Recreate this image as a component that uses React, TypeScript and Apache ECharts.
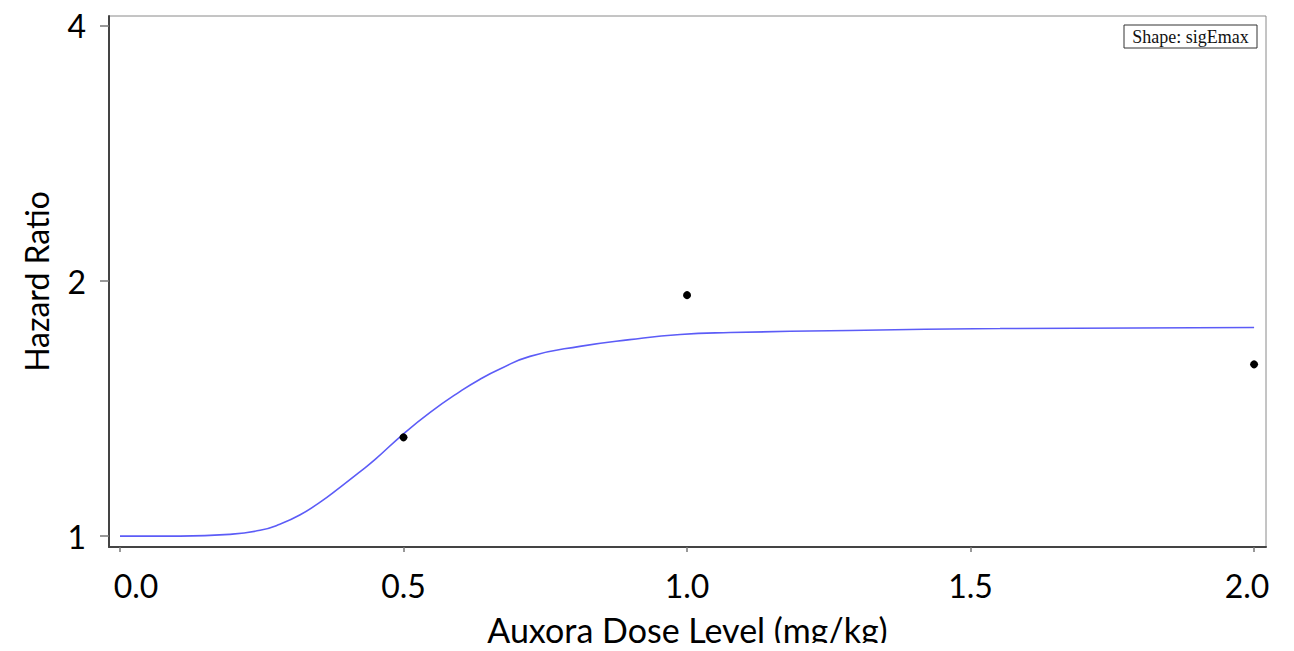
import React, { useEffect, useRef } from "react";
import * as echarts from "echarts";

const curveDose = [0, 0.106, 0.194, 0.247, 0.282, 0.317, 0.353, 0.388, 0.423, 0.45, 0.499, 0.547, 0.6, 0.635, 0.67, 0.723, 0.811, 0.899, 0.988, 1.076, 1.287, 1.552, 2.0];
const curveHR = [1.0, 1.0, 1.005, 1.016, 1.033, 1.059, 1.097, 1.142, 1.191, 1.232, 1.319, 1.4, 1.482, 1.532, 1.575, 1.63, 1.675, 1.706, 1.73, 1.739, 1.749, 1.758, 1.763];

const obsDose = [0.5, 1.0, 2.0];
const obsHR = [1.308, 1.925, 1.595];

const xTicks = [0, 0.5, 1.0, 1.5, 2.0];
const yTicks = [1, 2, 4];

const FONT = "Lato";

export default function App() {
  const ref = useRef<HTMLDivElement>(null);
  useEffect(() => {
    if (!ref.current) return;
    const chart = echarts.init(ref.current, null, { renderer: "svg" });
    const labelStyle = { fontFamily: FONT, fontSize: 32, color: "#000" };
    chart.setOption({
      animation: false,
      backgroundColor: "#ffffff",
      grid: {
        left: 109,
        right: 28,
        top: 16,
        bottom: 103,
        show: true,
        borderColor: "#8a8a8a",
        borderWidth: 1,
      },
      xAxis: {
        type: "value",
        min: -0.0194,
        max: 2.021,
        name: "Auxora Dose Level (mg/kg)",
        nameLocation: "middle",
        nameGap: 65,
        nameTextStyle: { fontFamily: FONT, fontSize: 34, color: "#000" },
        axisLine: { show: true, onZero: false, lineStyle: { color: "#444", width: 2 } },
        axisTick: { show: true, length: 5, customValues: xTicks, lineStyle: { color: "#777", width: 1.5 } },
        axisLabel: {
          customValues: xTicks,
          formatter: (v: number) => {
            const s = v.toFixed(1);
            if (v === xTicks[0]) return "{l|" + s + "}";
            if (v === xTicks[xTicks.length - 1]) return "{r|" + s + "}";
            return "{n|" + s + "}";
          },
          rich: {
            l: { ...labelStyle, padding: [0, 0, 0, 32] },
            r: { ...labelStyle, padding: [0, 14, 0, 0] },
            n: { ...labelStyle },
          },
          ...labelStyle,
          margin: 22,
        },
        splitLine: { show: false },
      },
      yAxis: {
        type: "log",
        logBase: 2,
        min: 0.971,
        max: 4.11,
        name: "Hazard Ratio",
        nameLocation: "middle",
        nameGap: 57,
        nameRotate: 90,
        nameTextStyle: { fontFamily: FONT, fontSize: 32, color: "#000" },
        axisLine: { show: true, onZero: false, lineStyle: { color: "#444", width: 2 } },
        axisTick: { show: true, length: 9, customValues: yTicks, lineStyle: { color: "#777", width: 1.5 } },
        axisLabel: {
          customValues: yTicks,
          formatter: (v: number) => String(Math.round(v)),
          ...labelStyle,
          margin: 23,
        },
        splitLine: { show: false },
      },
      graphic: [
        {
          type: "rect",
          shape: { x: 1124, y: 25, width: 133, height: 23 },
          style: { fill: "#fff", stroke: "#333", lineWidth: 1 },
          z: 10,
        },
        {
          type: "text",
          x: 1190.5,
          y: 37,
          style: {
            text: "Shape: sigEmax",
            font: '18px "Liberation Serif"',
            fill: "#111",
            align: "center",
            verticalAlign: "middle",
          },
          z: 11,
        },
      ],
      series: [
        {
          type: "line",
          data: curveDose.map((d, i) => [d, curveHR[i]]),
          smooth: 0.5,
          showSymbol: false,
          symbol: "none",
          lineStyle: { color: "#5c5cf7", width: 1.6 },
          z: 2,
        },
        {
          type: "scatter",
          data: obsDose.map((d, i) => [d, obsHR[i]]),
          symbol: "circle",
          symbolSize: 8,
          itemStyle: { color: "#000", opacity: 1 },
          emphasis: { disabled: true },
          z: 3,
        },
      ],
    });
    return () => chart.dispose();
  }, []);
  return <div ref={ref} style={{ width: 1294, height: 651, margin: -8 }} />;
}
